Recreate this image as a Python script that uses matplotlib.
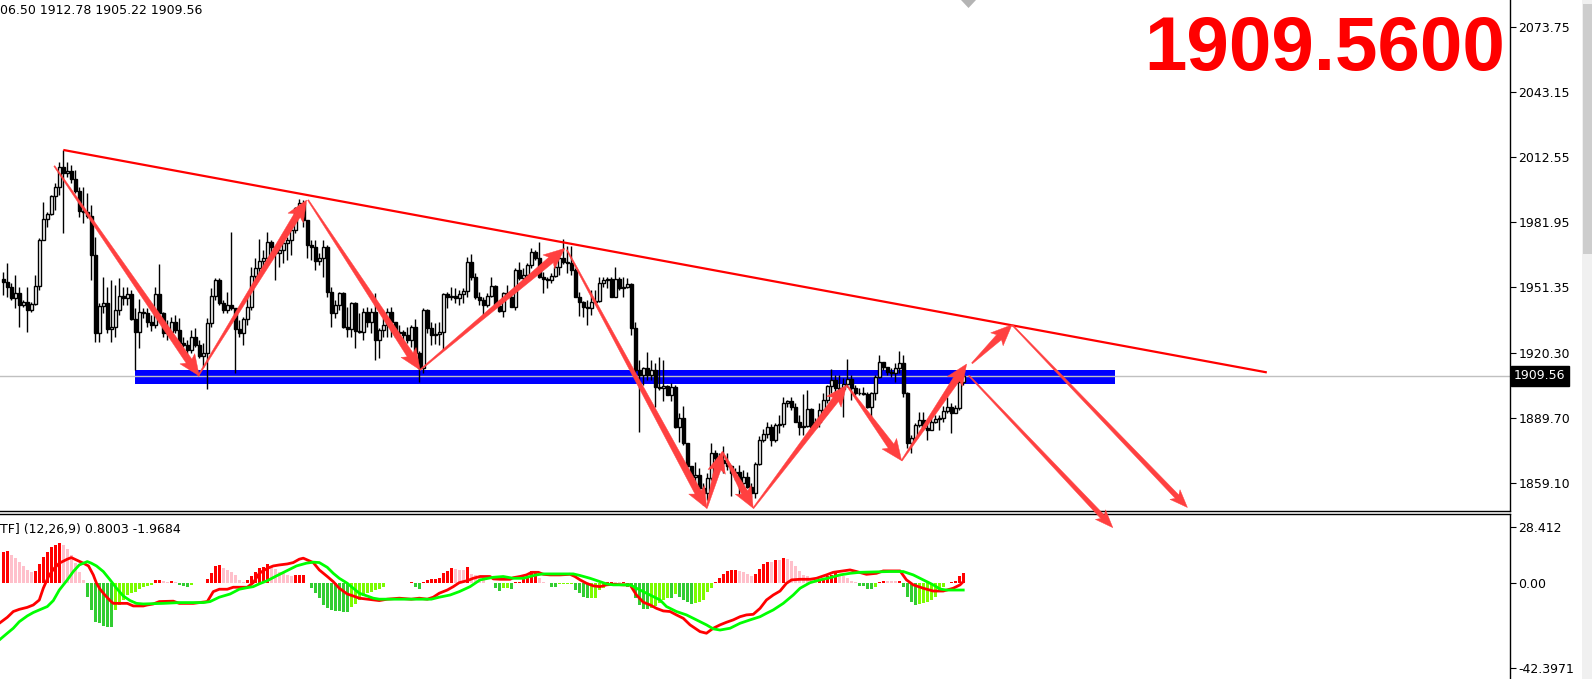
import matplotlib
matplotlib.use('Agg')
import matplotlib.pyplot as plt
from matplotlib.patches import Polygon, Rectangle
import numpy as np

plt.rcParams['font.family'] = ['DejaVu Sans']

# ---- price bars (H4), open of each bar = close of previous bar ----
first_open = 1955.0
closes = [1954.0, 1951.6, 1946.1, 1948.5, 1943.0, 1944.2, 1940.6, 1943.5, 1951.9, 1973.6,
          1983.3, 1985.8, 1994.3, 1998.4, 2007.8, 2005.0, 2006.3, 2002.2, 1996.8, 1987.4,
          1986.9, 1984.9, 1966.5, 1929.7, 1942.5, 1943.8, 1931.5, 1932.8, 1940.6, 1947.2,
          1946.1, 1948.2, 1936.2, 1930.4, 1939.8, 1939.4, 1935.1, 1933.6, 1948.2, 1939.1,
          1929.7, 1930.4, 1935.1, 1931.2, 1924.9, 1924.1, 1921.8, 1928.1, 1924.1, 1919.0,
          1920.5, 1934.7, 1947.2, 1954.8, 1944.1, 1940.6, 1943.0, 1941.4, 1931.5, 1929.7,
          1936.2, 1942.2, 1956.6, 1960.3, 1963.9, 1965.0, 1972.8, 1970.2, 1967.3, 1968.9,
          1972.0, 1973.6, 1978.3, 1988.5, 1991.2, 1983.0, 1971.2, 1970.5, 1963.9, 1965.0,
          1970.5, 1949.3, 1939.1, 1943.0, 1948.5, 1932.8, 1931.5, 1944.1, 1930.9, 1930.4,
          1939.8, 1935.1, 1939.8, 1926.5, 1931.2, 1933.6, 1939.8, 1935.1, 1929.7, 1930.4,
          1928.9, 1926.5, 1932.5, 1920.2, 1913.2, 1940.6, 1932.0, 1928.9, 1929.3, 1930.0,
          1948.2, 1946.6, 1947.2, 1946.1, 1948.2, 1949.7, 1963.4, 1956.3, 1946.6, 1945.4,
          1943.0, 1947.2, 1951.9, 1942.5, 1940.3, 1948.5, 1946.9, 1942.2, 1959.5, 1955.5,
          1957.1, 1961.8, 1968.1, 1965.0, 1956.3, 1955.1, 1954.8, 1956.6, 1960.7, 1965.0,
          1963.4, 1962.6, 1959.5, 1946.9, 1944.55, 1941.9, 1941.4, 1944.55, 1945.0, 1953.2,
          1954.8, 1955.1, 1946.9, 1955.1, 1950.8, 1951.6, 1952.9, 1932.0, 1912.4, 1910.0,
          1913.2, 1910.0, 1912.1, 1904.2, 1903.7, 1904.8, 1900.6, 1904.2, 1885.7, 1889.6,
          1877.8, 1866.9, 1862.1, 1862.9, 1856.6, 1854.3, 1861.3, 1873.4, 1870.8, 1870.0,
          1868.4, 1866.9, 1863.7, 1864.5, 1859.0, 1862.1, 1857.4, 1854.3, 1868.1, 1879.4,
          1882.2, 1885.7, 1879.4, 1886.5, 1886.9, 1897.0, 1897.5, 1895.1, 1888.0, 1885.4,
          1886.0, 1893.8, 1885.7, 1888.0, 1893.5, 1898.3, 1904.8, 1907.7, 1903.7, 1903.3,
          1905.8, 1908.0, 1903.7, 1901.4, 1901.7, 1901.1, 1895.1, 1901.7, 1908.9, 1916.3,
          1913.9, 1911.6, 1910.8, 1913.2, 1915.5, 1901.4, 1877.8, 1880.2, 1886.5, 1888.8,
          1884.9, 1884.1, 1888.0, 1889.1, 1889.6, 1893.2, 1895.1, 1892.3, 1894.3, 1906.5,
          1909.56]
highs = [1958.7, 1962.6, 1953.2, 1957.1, 1951.6, 1945.4, 1951.6, 1944.6, 1957.1, 1974.4,
         1991.7, 1986.9, 1994.8, 2000.3, 2010.5, 2016.0, 2010.5, 2008.9, 2006.6, 1998.7,
         1998.7, 1995.6, 1990.1, 1975.2, 1943.8, 1956.3, 1951.6, 1954.8, 1952.4, 1955.5,
         1951.6, 1951.6, 1950.0, 1941.4, 1945.7, 1941.4, 1941.4, 1938.3, 1951.6, 1962.3,
         1939.8, 1935.9, 1937.5, 1938.3, 1936.7, 1928.1, 1926.5, 1931.2, 1932.0, 1926.5,
         1924.9, 1936.7, 1950.8, 1955.5, 1955.5, 1945.4, 1949.3, 1977.5, 1941.4, 1935.9,
         1937.5, 1946.9, 1961.0, 1965.0, 1974.2, 1968.9, 1977.5, 1973.6, 1970.5, 1972.8,
         1973.6, 1975.2, 1980.7, 1989.3, 1992.8, 1992.4, 1983.0, 1973.6, 1973.6, 1967.3,
         1973.6, 1971.2, 1951.6, 1945.4, 1949.3, 1949.3, 1942.2, 1944.6, 1944.6, 1939.1,
         1941.4, 1942.2, 1941.4, 1948.5, 1932.0, 1936.7, 1941.4, 1942.2, 1935.1, 1933.6,
         1931.2, 1932.8, 1933.6, 1936.2, 1921.5, 1941.4, 1940.9, 1935.1, 1934.7, 1935.1,
         1948.8, 1949.3, 1951.6, 1950.8, 1950.0, 1950.8, 1965.8, 1967.0, 1957.9, 1949.3,
         1946.9, 1948.5, 1956.3, 1952.4, 1945.4, 1949.3, 1952.4, 1948.5, 1960.3, 1963.4,
         1960.3, 1962.9, 1969.7, 1968.9, 1972.8, 1958.7, 1956.3, 1958.2, 1963.4, 1967.3,
         1973.9, 1970.8, 1970.8, 1960.3, 1949.3, 1945.0, 1945.4, 1950.0, 1950.0, 1956.3,
         1956.3, 1956.3, 1956.3, 1960.7, 1956.3, 1956.3, 1955.5, 1953.2, 1935.1, 1917.1,
         1913.9, 1921.0, 1917.1, 1915.5, 1918.3, 1917.1, 1905.3, 1906.1, 1905.3, 1892.0,
         1895.4, 1877.8, 1866.9, 1869.2, 1866.1, 1859.0, 1863.7, 1877.8, 1874.7, 1873.1,
         1876.3, 1873.1, 1867.6, 1866.1, 1867.6, 1865.3, 1864.5, 1859.0, 1869.2, 1881.0,
         1884.4, 1888.0, 1886.9, 1887.3, 1891.2, 1899.8, 1898.3, 1899.8, 1896.7, 1891.2,
         1901.1, 1903.0, 1894.3, 1889.6, 1896.7, 1901.4, 1905.3, 1912.7, 1910.0, 1910.0,
         1908.4, 1917.4, 1910.0, 1905.3, 1903.7, 1904.5, 1902.2, 1902.2, 1910.0, 1919.4,
         1916.3, 1913.9, 1913.2, 1915.5, 1921.5, 1919.4, 1902.2, 1881.8, 1887.3, 1892.7,
         1892.7, 1888.8, 1890.4, 1891.2, 1891.2, 1895.4, 1899.8, 1896.7, 1895.9, 1907.7,
         1912.78]
lows = [1947.7, 1946.9, 1945.4, 1941.4, 1932.8, 1942.2, 1930.0, 1939.8, 1943.0, 1950.0,
        1973.6, 1979.9, 1985.4, 1987.7, 1994.8, 1976.7, 2003.4, 2000.3, 1995.6, 1984.6,
        1981.5, 1983.8, 1954.8, 1925.7, 1925.7, 1939.1, 1929.7, 1925.7, 1928.1, 1938.3,
        1943.0, 1943.0, 1935.9, 1912.4, 1922.6, 1936.7, 1932.8, 1930.9, 1932.0, 1938.3,
        1928.1, 1926.5, 1930.0, 1929.7, 1924.1, 1923.4, 1918.7, 1920.2, 1923.4, 1917.9,
        1913.9, 1903.3, 1932.8, 1945.4, 1943.0, 1939.1, 1939.1, 1940.6, 1910.8, 1928.1,
        1924.1, 1933.6, 1940.6, 1954.8, 1956.3, 1960.3, 1964.5, 1964.2, 1954.8, 1961.0,
        1962.6, 1964.2, 1966.5, 1976.7, 1984.6, 1979.9, 1965.0, 1964.2, 1959.5, 1961.8,
        1956.3, 1946.9, 1932.8, 1936.7, 1940.6, 1932.0, 1928.1, 1928.1, 1922.6, 1929.7,
        1926.5, 1932.8, 1929.7, 1917.1, 1917.9, 1928.1, 1928.1, 1928.1, 1928.1, 1928.1,
        1926.5, 1924.9, 1923.4, 1918.7, 1906.9, 1910.8, 1929.7, 1924.1, 1924.6, 1924.1,
        1921.8, 1941.4, 1945.4, 1943.8, 1943.0, 1943.8, 1946.9, 1954.8, 1945.7, 1943.0,
        1938.3, 1942.2, 1946.9, 1942.2, 1939.8, 1937.5, 1946.6, 1941.9, 1940.6, 1954.8,
        1954.0, 1956.3, 1960.3, 1964.2, 1955.5, 1948.8, 1950.8, 1953.2, 1956.3, 1957.1,
        1962.3, 1957.9, 1957.1, 1946.9, 1937.8, 1937.5, 1933.6, 1938.3, 1944.5, 1944.5,
        1951.6, 1950.8, 1946.6, 1946.6, 1950.0, 1946.9, 1950.8, 1928.9, 1910.8, 1882.9,
        1905.3, 1907.7, 1907.7, 1895.1, 1903.0, 1897.5, 1900.6, 1897.5, 1884.9, 1878.6,
        1877.0, 1863.7, 1859.0, 1857.4, 1855.9, 1848.8, 1851.1, 1860.6, 1866.9, 1867.6,
        1863.7, 1865.3, 1853.0, 1860.6, 1853.5, 1856.6, 1856.6, 1852.7, 1851.9, 1867.6,
        1878.6, 1880.2, 1876.3, 1878.6, 1882.5, 1885.7, 1895.1, 1893.5, 1887.6, 1881.8,
        1881.8, 1885.4, 1884.1, 1885.4, 1885.7, 1892.0, 1896.7, 1901.4, 1902.2, 1901.4,
        1890.4, 1904.5, 1898.3, 1900.6, 1900.6, 1900.6, 1894.3, 1890.4, 1898.3, 1908.4,
        1912.4, 1910.0, 1909.2, 1906.9, 1910.8, 1899.8, 1875.5, 1873.4, 1879.4, 1885.7,
        1884.1, 1879.4, 1884.1, 1887.3, 1884.1, 1888.0, 1892.0, 1882.5, 1892.0, 1893.5,
        1905.22]

# ---- MACD (MTF) histogram per bar, main and signal lines ----
hist = [15.9, 16.2, 14.2, 12.6, 10.9, 8.7, 6.7, 5.9, 6.4, 9.7,
        13.4, 15.9, 18.4, 19.3, 20.1, 19.3, 17.1, 14.2, 10.1, 5.9,
        1.7, -7.0, -13.4, -19.3, -20.1, -21.4, -21.8, -22.0, -13.4, -10.9,
        -8.4, -5.9, -4.7, -4.2, -3.0, -2.0, -1.3, -0.8, 1.7, 1.7,
        1.2, 0.8, 1.0, 0.7, -0.8, -1.3, -2.0, -1.0, 0.3, 0.25,
        0.2, 2.0, 5.0, 8.7, 9.2, 7.5, 6.7, 5.9, 4.2, 1.7,
        0.8, 1.7, 3.7, 5.9, 7.5, 8.4, 9.7, 8.4, 7.0, 5.9,
        5.4, 4.2, 3.7, 4.2, 4.3, 4.4, 0.3, -2.5, -5.0, -7.5,
        -10.9, -12.6, -13.4, -13.7, -13.9, -14.2, -14.5, -12.1, -10.4, -8.4,
        -6.4, -4.7, -4.2, -3.4, -3.0, -2.0, 0.3, 0.2, 0.15, 0.1,
        0.05, 0.03, 0.8, -2.0, -2.7, 0.8, 1.7, 2.0, 2.1, 2.5,
        5.4, 6.4, 7.5, 7.0, 6.9, 6.8, 8.0, 4.7, 4.2, 2.5,
        1.7, 0.2, 0.1, -2.2, -3.9, -2.5, -2.2, -2.8, 0.5, 0.8,
        2.5, 2.6, 6.2, 6.3, 2.5, 0.8, 0.2, -1.7, -1.8, -0.5,
        -0.45, -0.4, -0.35, -3.4, -5.0, -6.7, -7.5, -7.4, -7.2, -3.4,
        -2.5, 0.5, 0.6, 0.5, 0.4, 0.5, -1.7, -1.8, -7.2, -10.9,
        -12.9, -13.0, -12.6, -11.2, -10.1, -8.4, -7.2, -7.3, -5.5, -6.7,
        -8.4, -9.2, -10.3, -10.1, -9.5, -8.4, -4.5, -2.5, 0.8, 2.8,
        4.5, 6.2, 6.7, 6.8, 6.2, 5.5, 4.5, 3.4, 4.5, 7.2,
        9.5, 10.9, 10.8, 11.7, 11.6, 12.6, 12.2, 11.2, 8.9, 6.2,
        4.2, 3.4, 2.5, 2.2, 2.3, 2.8, 3.9, 4.0, 5.0, 3.9,
        3.4, 2.5, 1.2, 0.5, -1.2, -1.3, -2.8, -2.9, -1.7, 0.5,
        1.3, 1.2, 1.15, 1.1, 1.2, -1.7, -6.7, -9.5, -10.9, -10.6,
        -10.1, -9.5, -8.4, -6.7, -4.2, -1.7, 0.2, 0.5, 1.2, 3.9,
        5.0]

macd_x = [-1, 1, 2.5, 4, 6, 7.5, 9, 10, 11.3, 12.5, 14, 16, 17, 18.3, 20, 21.3, 22.5, 23.3,
          24.2, 25.4, 26.7, 27.5, 31, 32.5, 35, 36, 37.5, 39, 42.5, 44, 47.5, 49, 51, 52.5,
          54, 56, 57.5, 61, 62.5, 64, 66, 67.5, 69, 71, 72.5, 74, 75, 76, 77.5, 79, 81, 82.5,
          84, 86, 87.5, 89, 91, 92.5, 94, 96, 99, 102, 104, 106, 107.5, 109, 111, 112.5, 114,
          116, 117.5, 119.2, 121.7, 122.5, 124.2, 126.7, 127.5, 129.2, 130.8, 132.1, 133.8,
          135, 136.7, 139.2, 141.7, 142.9, 144.2, 145.8, 147.5, 149.2, 150.8, 152.5, 155,
          156.7, 158.3, 160, 161.7, 163.3, 165, 166.7, 168.3, 170, 171.7, 174.2, 175.8,
          177.5, 179.2, 180.8, 182.5, 184.2, 185.8, 187.5, 189.2, 190.8, 192.5, 194.2,
          195.8, 197.1, 199.2, 201.7, 203.3, 205.8, 207.5, 210, 211.7, 213.3, 215.8, 218.3,
          220, 224.2, 225.8, 227.5, 230, 232.5, 235, 237.5, 239.2, 240]
macd_y = [-20.1, -17.1, -14.2, -13.1, -12.1, -10.9, -8.4, -2.5, 3.4, 7.0, 10.1, 12.1, 12.9,
          11.7, 10.1, 8.7, 4.2, 0.0, -3.0, -5.9, -8.7, -10.1, -10.1, -11.4, -11.4, -10.9,
          -10.4, -9.2, -9.0, -10.1, -10.1, -9.7, -9.2, -4.2, -3.0, -3.0, -2.0, -2.0, 0.3,
          5.0, 7.5, 8.7, 9.2, 9.7, 10.4, 12.1, 12.6, 11.7, 10.4, 6.7, 3.4, 0.8, -2.5, -5.4,
          -6.4, -7.5, -8.0, -8.4, -8.7, -8.0, -7.5, -8.0, -7.5, -8.0, -7.0, -5.0, -3.4,
          -1.7, 0.3, 1.3, 2.5, 3.4, 3.4, 2.2, 2.0, 2.0, 2.8, 3.4, 4.2, 5.5, 5.5, 4.5, 4.2,
          4.2, 4.5, 3.4, 1.7, 0.0, -1.3, -1.7, -0.8, -0.5, -0.8, -0.8, -5.9, -9.5, -10.9,
          -12.6, -13.9, -14.2, -15.9, -17.6, -20.9, -24.3, -25.1, -22.6, -20.9, -19.6,
          -18.4, -16.8, -15.9, -15.6, -12.6, -8.4, -5.9, -3.9, 0.0, 1.7, 2.0, 2.0, 2.5, 4.2,
          5.5, 6.2, 6.7, 5.9, 4.5, 5.0, 6.2, 6.2, 1.7, -0.8, -2.5, -3.9, -3.9, -2.5, -0.8,
          0.8]
sig_x = [-1, 1, 2.5, 4, 6, 7.5, 9, 11, 12.5, 14, 16, 17.5, 19, 21, 22, 23.3, 25, 26.7, 28.3,
         30, 31.7, 33.3, 35, 40, 44, 50, 51.7, 54, 56.7, 59, 61, 62.5, 64, 66, 68.3, 71,
         73.3, 75.8, 77.5, 79, 81, 82.5, 84, 86, 87.5, 89, 91, 92.5, 94, 107, 109, 111.7,
         114, 116.7, 119.2, 122.5, 125, 127.5, 130, 131.7, 133.3, 135, 142.5, 144.2, 146.7,
         149.2, 150.8, 152.5, 156.7, 159.2, 161.7, 164.2, 165.8, 168.3, 170.8, 173.3, 175.8,
         177.5, 179.2, 181.7, 184.2, 186.7, 189.2, 190.8, 192.5, 195, 197.5, 199.2, 201.7,
         204.2, 206.7, 209.2, 211.7, 214.2, 221.7, 225, 227.5, 230, 232.5, 234.2, 235.8, 240]
sig_y = [-28.5, -25.1, -22.6, -19.3, -16.4, -14.7, -13.4, -11.7, -8.7, -3.4, 1.7, 5.9, 9.2,
         10.9, 10.1, 8.7, 5.9, 1.7, -2.5, -6.4, -8.7, -10.1, -10.4, -10.1, -9.7, -9.7, -9.2,
         -7.0, -5.4, -3.0, -2.2, -1.7, -0.3, 1.3, 3.7, 6.4, 8.7, 10.1, 10.6, 10.4, 8.0, 5.0,
         2.5, 0.0, -2.5, -5.0, -6.4, -7.5, -8.0, -8.0, -7.0, -5.9, -4.2, -1.7, 1.7, 3.0,
         3.4, 2.5, 2.5, 3.4, 4.2, 4.7, 4.7, 3.9, 2.5, 0.8, -0.3, -0.8, -0.8, -3.4, -5.9,
         -8.4, -11.7, -14.2, -15.9, -18.4, -20.9, -22.9, -23.5, -22.6, -20.1, -18.4, -16.8,
         -15.1, -13.4, -10.1, -5.9, -2.5, 0.3, 1.7, 2.8, 4.2, 5.0, 5.5, 5.9, 5.9, 4.2, 1.7,
         -0.8, -2.9, -3.4, -3.4]

# ---- drawings: trend line, support zone, arrows (bar index, price) ----
trend_x = [15, 315.9]
trend_p = [2016.0, 1911.2]
zone_x = [32.9, 277.9]
zone_lo, zone_hi = 1905.8, 1912.4
last_price = 1909.56
arrow_starts = [(12.75, 2008.45), (48.7, 1909.5), (76.2, 1992.4), (104.2, 1912.35),
                (140.9, 1968.9), (175.85, 1847.2), (179.75, 1873.85), (187.5, 1847.2),
                (210.85, 1905.25), (224.6, 1869.6), (242.2, 1915.5), (252.2, 1933.65),
                (241.4, 1909.75)]
arrow_ends = [(49.0, 1909.5), (75.85, 1992.4), (104.2, 1912.35), (140.4, 1969.65),
              (175.85, 1847.2), (179.75, 1873.85), (187.5, 1847.2), (210.85, 1905.25),
              (224.6, 1869.6), (240.85, 1915.15), (252.2, 1933.65), (296.05, 1847.55),
              (277.4, 1838.05)]

price_ticks = [2073.75, 2043.15, 2012.55, 1981.95, 1951.35, 1920.30, 1889.70, 1859.10]
macd_ticks = [28.412, 0.0, -42.3971]
macd_tick_labels = ['28.412', '0.00', '-42.3971']

W, H = 1592, 679
fig = plt.figure(figsize=(W / 100, H / 100), dpi=100)
fig.patch.set_facecolor('white')

axm = fig.add_axes([0, 0, 1510 / W, 165 / H])
ax = fig.add_axes([0, 1 - 511 / H, 1510 / W, 511 / H])

xlim = (-0.825, 376.7)

# candles
idx = np.arange(len(closes))
c = np.array(closes)
o = np.array([first_open] + closes[:-1])
up = c >= o
ax.fill_between(zone_x, zone_lo, zone_hi, color='#0000ff', lw=0, zorder=1)
ax.axhline(last_price, color='#c0c0c0', lw=1, zorder=2)
ax.vlines(idx, lows, highs, color='black', lw=1, zorder=3)
ax.bar(idx[up], c[up] - o[up], bottom=o[up], width=0.7, color='white',
       edgecolor='black', linewidth=1.0, zorder=4)
ax.bar(idx[~up], c[~up] - o[~up], bottom=o[~up], width=0.7, color='black',
       edgecolor='black', linewidth=1.0, zorder=4)
ax.plot(trend_x, trend_p, color='#ff0000', lw=1.6, zorder=5, solid_capstyle='butt')

ax.set_xlim(*xlim)
ax.set_ylim(1845.9, 2086.65)
ax.set_xticks([])
ax.yaxis.tick_right()
ax.set_yticks(price_ticks)
ax.set_yticklabels(['%.2f' % t for t in price_ticks])
for s in ['top', 'left']:
    ax.spines[s].set_visible(False)
for s in ['right', 'bottom']:
    ax.spines[s].set_color('black')
    ax.spines[s].set_linewidth(1)
ax.tick_params(axis='y', direction='out', length=4, width=0.8, pad=2, labelsize=9)
ax.annotate('%.2f' % last_price, xy=(1.0, last_price), xycoords=('axes fraction', 'data'),
            xytext=(3, 0), textcoords='offset points', ha='left', va='center',
            fontsize=9, color='white', annotation_clip=False,
            bbox=dict(boxstyle='square,pad=0.25', fc='black', ec='black'))

# MACD panel
hv = np.array(hist)
prev = np.concatenate([[hv[0]], hv[:-1]])
cols = np.where(hv >= 0, np.where(hv >= prev, '#ff0000', '#ffc0cb'),
                np.where(hv < prev, '#32cd32', '#7cfc00'))
axm.bar(np.arange(len(hv)), hv, width=0.72, color=cols, lw=0, zorder=2)
axm.plot(macd_x, macd_y, color='#ff0000', lw=2, zorder=3)
axm.plot(sig_x, sig_y, color='#00ff00', lw=2, zorder=4)
axm.set_xlim(*xlim)
axm.set_ylim(-48.1, 34.8)
axm.set_xticks([])
axm.yaxis.tick_right()
axm.set_yticks(macd_ticks)
axm.set_yticklabels(macd_tick_labels)
for s in ['bottom', 'left']:
    axm.spines[s].set_visible(False)
for s in ['right', 'top']:
    axm.spines[s].set_color('black')
    axm.spines[s].set_linewidth(1)
axm.tick_params(axis='y', direction='out', length=4, width=0.8, pad=2, labelsize=9)


def tapered_arrow(start, end, shaft=7.0, head_w=18.0, head_l=18.0, color='#ff4040'):
    (x0, y0), (x1, y1) = ax.transData.transform([start, end])
    dx, dy = x1 - x0, y1 - y0
    length = np.hypot(dx, dy)
    ux, uy = dx / length, dy / length
    nx, ny = -uy, ux
    bx, by = x1 - ux * head_l, y1 - uy * head_l
    pts = [(x0 + nx * 0.6, y0 + ny * 0.6),
           (bx + nx * shaft / 2, by + ny * shaft / 2),
           (bx - ux * 3 + nx * head_w / 2, by - uy * 3 + ny * head_w / 2),
           (x1, y1),
           (bx - ux * 3 - nx * head_w / 2, by - uy * 3 - ny * head_w / 2),
           (bx - nx * shaft / 2, by - ny * shaft / 2),
           (x0 - nx * 0.6, y0 - ny * 0.6)]
    pts = fig.transFigure.inverted().transform(pts)
    fig.add_artist(Polygon(pts, closed=True, transform=fig.transFigure,
                           fc=color, ec=color, lw=0.3, zorder=5))


for k, (s, e) in enumerate(zip(arrow_starts, arrow_ends)):
    if k >= 11:
        tapered_arrow(s, e, shaft=5.0, head_w=14.0, head_l=15.0)
    else:
        tapered_arrow(s, e)

# texts
fig.text(0.0, 1 - 11 / H, '06.50 1912.78 1905.22 1909.56', fontsize=9,
         ha='left', va='center', color='black')
fig.text(0.0, 1 - 530 / H, 'TF] (12,26,9) 0.8003 -1.9684', fontsize=9,
         ha='left', va='center', color='black')
fig.text(1505 / W, 1 - 70 / H, '1909.5600', ha='right', va='baseline', fontsize=55,
         fontweight='bold', color='#ff0000', family='Liberation Sans')

# window chrome: chart-shift marker and scrollbar
fig.add_artist(Polygon([(961 / W, 1.0), (976 / W, 1.0), (968.5 / W, 1 - 8 / H)],
                       closed=True, transform=fig.transFigure, fc='#b4b4b4', ec='none'))
fig.add_artist(Rectangle((1582 / W, 0), 10 / W, 1, transform=fig.transFigure,
                         fc='#f0f0f0', ec='none'))
fig.add_artist(Rectangle((1583 / W, 1 - 254 / H), 9 / W, 250 / H, transform=fig.transFigure,
                         fc='#cdcdcd', ec='none'))

fig.savefig('out.png', dpi=100)
